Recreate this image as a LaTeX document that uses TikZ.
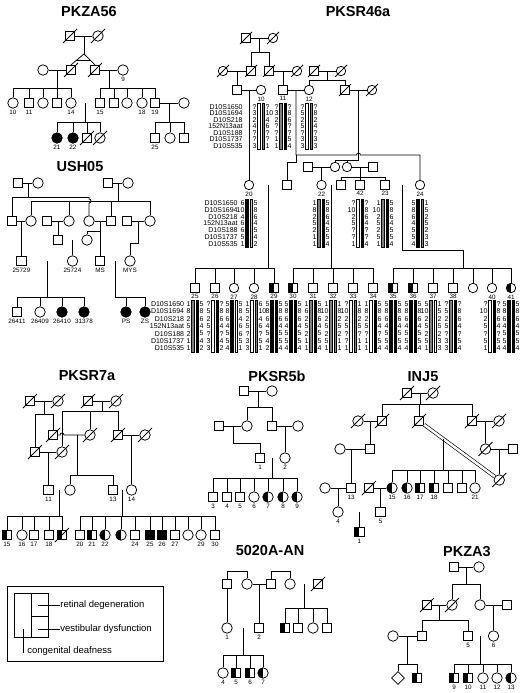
\documentclass[tikz,border=0pt]{standalone}
\usepackage{fontspec}
\setmainfont{Liberation Sans}
\usetikzlibrary{calc,shapes.geometric}
\newcommand\pddead[2][7]{\draw ([shift={(-#1,#1)}]#2.center) -- ([shift={(#1,-#1)}]#2.center);}
\newcommand\pdlab[2]{\node[lab] (#1-l) at ([yshift=-1.2pt]#1.south) {#2};}
\newcommand\pdmar[3]{\draw (#1) -- (#2); \coordinate (#3) at ($(#1)!.5!(#2)$);}
\newcommand\pdcmar[3]{\draw[cons] (#1) -- (#2); \coordinate (#3) at ($(#1)!.5!(#2)$);}
\newcommand\pdsib[5]{%
  \coordinate (sb) at (0,#2);
  \draw (#1) -- (#1|-sb);
  \draw (#1|-sb) -- (#3|-sb);
  \draw (#1|-sb) -- (#4|-sb);
  \foreach \c in {#5}{\draw (\c) -- (\c|-sb);}%
}
\newcommand\pdnames[3]{%
  \foreach \n [count=\i] in {D10S1650,D10S1694,D10S218,152N13aat,D10S188,D10S1737,D10S535}
    {\node[mk,anchor=east] (mn-#2-\i) at ({#1},{#2+(\i-1)*#3}) {\n};}%
}
\newcommand\pdhap[7]{%
  \filldraw[line width=0.4pt,fill=#6] ({#1-3.4},{#2-3.4}) rectangle ({#1-0.8},{#2+6*#3+3.4});
  \filldraw[line width=0.4pt,fill=#7] ({#1+0.8},{#2-3.4}) rectangle ({#1+3.4},{#2+6*#3+3.4});
  \foreach \a [count=\i] in {#4}{\node[mk,anchor=east] (hl-#1-#2-\i) at ({#1-4.2},{#2+(\i-1)*#3}) {\a};}
  \foreach \a [count=\i] in {#5}{\node[mk,anchor=west] (hr-#1-#2-\i) at ({#1+4.2},{#2+(\i-1)*#3}) {\a};}%
}
\begin{document}
\begin{tikzpicture}[x=1pt,y=-1pt,line width=0.75pt,
  pm/.style={draw,rectangle,minimum size=9.5pt,inner sep=0pt,fill=white},
  pf/.style={draw,circle,minimum size=10.5pt,inner sep=0pt,fill=white},
  pms/.style={pm,minimum size=8.5pt},
  pfs/.style={pf,minimum size=9.5pt},
  pu/.style={draw,diamond,minimum width=13pt,minimum height=13pt,inner sep=0pt,fill=white},
  aff/.style={fill=black},
  hlf/.style={path picture={\fill[black] (path picture bounding box.south west) rectangle (path picture bounding box.north);}},
  lab/.style={font=\fontsize{6.3}{6.3}\selectfont,inner sep=0pt,anchor=north},
  ttl/.style={font=\fontsize{14.5}{14.5}\selectfont\bfseries,inner sep=0pt},
  mk/.style={font=\fontsize{7}{7}\selectfont,inner sep=0pt},
  cons/.style={double=white,double distance=1.6pt,line width=0.65pt},
  leg/.style={font=\fontsize{9.5}{9.5}\selectfont,inner sep=0pt,anchor=west}]
\useasboundingbox (0,0) rectangle (523,693);
\fill[white] (0,0) rectangle (523,693);

% ================= PKZA56
\node[ttl] (T1) at (89,12) {PKZA56};
\node[pm] (a1) at (70,36) {}; \node[pf] (a2) at (98,36) {};
\pdmar{a1}{a2}{ma12}
\coordinate (tw) at (84,54);
\draw (ma12) -- (tw);
\node[pm] (a3) at (71,70) {}; \node[pm] (a4) at (95,70) {};
\draw (a3.north) -- (tw) -- (a4.north);
\draw ($(tw)!0.62!(a3.north)$) -- ($(tw)!0.62!(a4.north)$);
\node[pf] (a5) at (43,70) {}; \node[pf] (a6) at (123,70) {};
\pdmar{a5}{a3}{ma53}
\pdmar{a4}{a6}{ma46}
\pddead{a1}\pddead{a2}\pddead{a3}\pddead{a4}
\pdlab{a6}{9}
\node[pf] (b1) at (13,103) {}; \node[pm] (b2) at (29,103) {}; \node[pf] (b3) at (43,103) {};
\node[pm] (b4) at (57,103) {}; \node[pf] (b5) at (71,103) {};
\node[pm] (b6) at (100,103) {}; \node[pm] (b7) at (114,103) {}; \node[pf] (b8) at (127,103) {};
\node[pf] (b9) at (142,103) {}; \node[pm] (b10) at (155,103) {}; \node[pf] (b11) at (184,103) {};
\pdsib{ma53}{88}{b1}{b5}{b1,b2,b3,b4,b5}
\pdsib{ma46}{88}{b6}{b10}{b6,b7,b8,b9,b10}
\pdlab{b1}{10}\pdlab{b2}{11}\pdlab{b5}{14}\pdlab{b6}{15}\pdlab{b9}{18}\pdlab{b10}{19}
\pdcmar{b5}{b6}{mb56}
\pdmar{b10}{b11}{mb1011}
\node[pf,aff] (c1) at (57,138) {}; \node[pf,aff] (c2) at (73,138) {};
\node[pm] (c3) at (87,138) {}; \node[pf] (c4) at (100,138) {};
\pddead{c3}\pddead{c4}
\pdsib{mb56}{122}{c1}{c4}{c1,c2,c3,c4}
\node[pm] (c5) at (155,138) {}; \node[pf] (c6) at (170,138) {}; \node[pm] (c7) at (184,138) {};
\pdsib{mb1011}{122}{c5}{c7}{c5,c6,c7}
\pdlab{c1}{21}\pdlab{c2}{22}\pdlab{c5}{25}

% ================= USH05
\node[ttl] (T2) at (80,167) {USH05};
\node[pm] (d1) at (18,183) {}; \node[pf] (d2) at (38,183) {};
\node[pm] (d3) at (108,183) {}; \node[pf] (d4) at (128,183) {};
\pdmar{d1}{d2}{md12}\pdmar{d3}{d4}{md34}
\node[pm] (e1) at (12,221) {}; \node[pf] (e2) at (31,221) {}; \node[pm] (e3) at (47,221) {};
\node[pf] (e4) at (69,221) {}; \node[pf] (e5) at (89,221) {}; \node[pm] (e6) at (111,221) {};
\node[pm] (e7) at (127,221) {}; \node[pf] (e8) at (150,221) {};
\coordinate (s197) at (0,197);
\draw (md12) -- (md12|-s197);
\draw (e1|-s197) -- (e5|-s197);
\draw (e1) -- (e1|-s197);
\draw (e5|-s197) -- ++(0,2) arc[start angle=90,end angle=-90,radius=2pt] -- (e5);
\pdsib{md34}{201}{e2}{e8}{e2,e4,e6,e8}
\pdmar{e1}{e2}{me12}
\node[pm] (f1) at (21.5,261) {}; \draw (me12) -- (f1);
\pdmar{e3}{e4}{me34}
\node[pm] (g1) at (58,240) {}; \draw (me34) -- (g1);
\pdmar{e5}{e6}{me56}
\node[pf] (g2) at (87,240) {}; \node[pm] (f3) at (100,261) {};
\coordinate (s231) at (0,231);
\draw (me56) -- (f3);
\draw (me56|-s231) -| (g2);
\pdmar{e7}{e8}{me78}
\node[pf] (f4) at (130,261) {};
\coordinate (s243) at (0,243);
\draw (me78) -- (me78|-s243) -| (f4);
\pdcmar{g1}{g2}{mg12}
\node[pf] (f2) at (72.5,261) {}; \draw (mg12) -- (f2);
\pdcmar{f1}{f2}{mf12}
\pdcmar{f3}{f4}{mf34}
\pdlab{f1}{25729}\pdlab{f2}{25724}\pdlab{f3}{MS}\pdlab{f4}{MYS}
\node[pm] (h1) at (17,312) {}; \node[pf] (h2) at (40,312) {};
\node[pf,aff] (h3) at (62,312) {}; \node[pf,aff] (h4) at (84,312) {};
\pdsib{mf12}{297}{h1}{h4}{h1,h2,h3,h4}
\node[pf,aff] (h5) at (126,312) {}; \node[pf,aff] (h6) at (145,312) {};
\pdsib{mf34}{297}{h5}{h6}{h5,h6}
\pdlab{h1}{26411}\pdlab{h2}{26409}\pdlab{h3}{26410}\pdlab{h4}{31378}\pdlab{h5}{PS}\pdlab{h6}{ZS}

% ================= PKSR46a
\node[ttl] (T3) at (358,12) {PKSR46a};
\node[pms] (i1) at (246,38) {}; \node[pfs] (i2) at (273,38) {};
\pdmar{i1}{i2}{mi12}
\node[pfs] (j1) at (223,71) {}; \node[pms] (j2) at (251,71) {}; \node[pms] (j3) at (269,71) {};
\node[pfs] (j4) at (297,71) {}; \node[pms] (j5) at (314,71) {}; \node[pfs] (j6) at (341,71) {};
\pdsib{mi12}{52}{j2}{j3}{j2,j3}
\pdmar{j1}{j2}{mj12}\pdmar{j3}{j4}{mj34}\pdmar{j5}{j6}{mj56}
\node[pms] (k1) at (237,90) {}; \node[pfs] (k2) at (261,90) {}; \node[pms] (k3) at (283,90) {};
\node[pfs] (k4) at (309,90) {}; \node[pms] (k5) at (345,90) {}; \node[pfs] (k6) at (372,90) {};
\draw (mj12) -- (k1); \draw (mj34) -- (k3);
\pdsib{mj56}{80}{k4}{k5}{k4,k5}
\pdmar{k1}{k2}{mk12}\pdmar{k3}{k4}{mk34}\pdmar{k5}{k6}{mk56}
\pddead[6]{i1}\pddead[6]{i2}\pddead[6]{j1}\pddead[6]{j2}\pddead[6]{j3}\pddead[6]{j4}
\pddead[6]{j5}\pddead[6]{j6}\pddead[6]{k5}\pddead[6]{k6}
\pdlab{k2}{10}\pdlab{k3}{11}\pdlab{k4}{12}
\node[pms] (p1) at (308,167) {}; \node[pfs] (p2) at (335,167) {};
\node[pfs] (p3) at (347,167) {}; \node[pms] (p4) at (373,167) {};
\node[pfs] (l1) at (249,185) {}; \node[pms] (l2) at (287,185) {}; \node[pfs] (l3) at (321.5,185) {};
\node[pms] (l4) at (341,185) {}; \node[pms] (l5) at (360,185) {}; \node[pms] (l6) at (385,185) {};
\node[pfs] (l7) at (420,185) {};
\coordinate (s155) at (0,155); \coordinate (s162) at (0,162); \coordinate (s160) at (0,160);
\draw (mk34) -- (mk34|-s155) -- (356.5,155) arc[start angle=180,end angle=0,radius=2pt] -- (420,155) -- (l7);
\draw (mk34|-s155) -- (mk34|-s162) -| (l2);
\draw (mk56) -- (mk56|-s160) -- (p2|-s160);
\draw (p2) -- (p2|-s160); \draw (p3) -- (p3|-s160);
\draw (mk12) -- (l1);
\pdmar{p1}{p2}{mp12} \draw (mp12) -- (l3);
\pdmar{p3}{p4}{mp34}
\pdsib{mp34}{177}{l4}{l6}{l4,l5,l6}
\pdcmar{l1}{l2}{ml12}\pdcmar{l3}{l4}{ml34}\pdcmar{l6}{l7}{ml67}
\pdlab{l1}{20}\pdlab{l3}{22}\pdlab{l5}{42}\pdlab{l6}{23}\pdlab{l7}{24}
\node[pms] (n25) at (195,288) {}; \node[pms] (n26) at (215,288) {}; \node[pfs] (n27) at (234,288) {};
\node[pfs] (n28) at (254,288) {}; \node[pms,hlf] (n29) at (274,288) {};
\node[pms,hlf] (n30) at (293,288) {}; \node[pms] (n31) at (313,288) {}; \node[pms] (n32) at (333,288) {};
\node[pms] (n33) at (353,288) {}; \node[pms] (n34) at (373,288) {};
\node[pms,hlf] (n35) at (393,288) {}; \node[pms,hlf] (n36) at (413,288) {}; \node[pms] (n37) at (433,288) {};
\node[pms] (n38) at (453,288) {}; \node[pfs] (n39) at (473,288) {}; \node[pfs] (n40) at (492,288) {};
\node[pfs,hlf] (n41) at (511,288) {};
\pdsib{ml12}{268}{n25}{n29}{n25,n26,n27,n28,n29}
\pdsib{ml34}{268}{n30}{n34}{n30,n31,n32,n33,n34}
\coordinate (d67) at (463,250);
\draw (ml67) |- (d67);
\pdsib{d67}{268}{n35}{n41}{n35,n36,n37,n38,n39,n40,n41}
\pdlab{n25}{25}\pdlab{n26}{26}\pdlab{n27}{27}\pdlab{n28}{28}\pdlab{n29}{29}\pdlab{n30}{30}
\pdlab{n31}{31}\pdlab{n32}{32}\pdlab{n33}{33}\pdlab{n34}{34}\pdlab{n35}{35}\pdlab{n36}{36}
\pdlab{n37}{37}\pdlab{n38}{38}\pdlab{n40}{40}\pdlab{n41}{41}
% haplotypes
\pdnames{243}{107}{6.5}
\pdhap{261}{107}{6.5}{?,3,2,4,?,?,3}{?,10,4,6,?,?,1}{white}{gray}
\pdhap{283}{107}{6.5}{?,3,2,?,?,1,1}{?,8,6,?,?,5,4}{gray}{black}
\pdhap{309}{107}{6.5}{?,5,2,5,?,3,3}{?,8,2,4,?,3,3}{white}{gray}
\pdnames{238}{203}{6.8}
\pdhap{249}{203}{6.8}{6,10,4,6,6,5,1}{5,8,6,4,5,4,2}{black}{gray!45}
\pdhap{321}{203}{6.8}{1,8,2,5,2,1,1}{5,8,6,4,5,5,4}{gray}{black}
\pdhap{360}{203}{6.8}{?,10,2,5,?,?,1}{?,8,6,4,?,?,4}{white}{black}
\pdhap{385}{203}{6.8}{1,10,2,5,2,5,1}{5,8,6,4,5,5,4}{gray}{black}
\pdhap{420}{203}{6.8}{5,8,6,4,5,5,4}{1,5,2,5,2,3,3}{black}{gray}
\pdnames{184.5}{304}{7.4}
\pdhap{195}{304}{7.4}{1,8,2,5,2,1,1}{5,8,6,4,5,4,2}{gray}{black}
\pdhap{215}{304}{7.4}{?,5,2,5,?,3,3}{?,8,6,4,?,4,2}{white}{black}
\pdhap{234}{304}{7.4}{5,8,6,4,5,5,4}{5,8,4,6,6,5,1}{black}{white}
\pdhap{254}{304}{7.4}{1,5,2,5,?,3,3}{6,10,4,6,?,5,1}{white}{gray}
\pdhap{274}{304}{7.4}{5,8,6,4,5,4,2}{5,8,6,4,5,5,4}{black}{black}
\pdhap{293}{304}{7.4}{5,8,6,4,5,5,4}{5,8,6,4,5,5,4}{black}{black}
\pdhap{313}{304}{7.4}{1,6,2,5,2,1,1}{5,8,6,4,5,5,4}{gray}{black}
\pdhap{333}{304}{7.4}{1,10,2,5,2,5,1}{1,8,2,5,2,1,1}{gray}{gray}
\pdhap{353}{304}{7.4}{?,10,2,5,?,?,1}{1,8,2,5,?,1,1}{white}{gray}
\pdhap{373}{304}{7.4}{1,8,2,5,?,1,1}{5,8,6,4,?,5,4}{white}{black}
\pdhap{393}{304}{7.4}{5,8,6,4,5,5,4}{5,8,6,4,5,5,4}{black}{black}
\pdhap{413}{304}{7.4}{5,8,6,4,5,5,4}{5,8,6,4,5,5,4}{black}{black}
\pdhap{433}{304}{7.4}{5,10,2,5,2,5,1}{1,5,2,5,2,3,3}{gray}{white}
\pdhap{453}{304}{7.4}{?,5,2,5,?,3,3}{?,8,6,4,?,5,4}{gray}{black}
\pdhap{492}{304}{7.4}{?,10,2,5,?,5,1}{?,8,6,4,?,5,4}{white}{black}
\pdhap{511}{304}{7.4}{5,8,6,4,5,5,4}{5,8,6,4,5,5,4}{black}{black}

% ================= PKSR7a
\node[ttl] (T4) at (87,376) {PKSR7a};
\node[pm] (q1) at (30,401) {}; \node[pf] (q2) at (58,401) {};
\node[pm] (q3) at (88,401) {}; \node[pf] (q4) at (116,401) {};
\pdmar{q1}{q2}{mq12}\pdmar{q3}{q4}{mq34}
\node[pm] (r1) at (53,435) {}; \node[pf] (r4) at (90,435) {}; \node[pm] (r5) at (118,435) {};
\node[pf] (r6) at (145,435) {}; \node[pm] (r2) at (35,452) {}; \node[pf] (r3) at (62,452) {};
\pdsib{mq12}{414}{r2}{r1}{r2,r1}
\pdsib{mq34}{411}{r3}{r5}{r3,r4,r5}
\draw (r1) -- (60,435) arc[start angle=180,end angle=0,radius=2pt] -- (r4);
\coordinate (mr14) at (77,435);
\pdmar{r2}{r3}{mr23}\pdmar{r5}{r6}{mr56}
\pddead{q1}\pddead{q2}\pddead{q3}\pddead{q4}\pddead{r1}\pddead{r2}\pddead{r3}\pddead{r4}\pddead{r5}\pddead{r6}
\node[pm] (s1) at (48.5,490) {}; \node[pf] (s2) at (70,490) {};
\node[pm] (s3) at (113,490) {}; \node[pf] (s4) at (131.5,490) {};
\draw (mr23) -- (s1); \draw (mr56) -- (s4);
\pdsib{mr14}{475}{s2}{s3}{s2,s3}
\pdcmar{s1}{s2}{ms12}\pdcmar{s3}{s4}{ms34}
\pdlab{s1}{11}\pdlab{s3}{13}\pdlab{s4}{14}
\node[pm,hlf] (t1) at (7,535) {}; \node[pf] (t2) at (22,535) {}; \node[pm] (t3) at (34,535) {};
\node[pm] (t4) at (49,535) {}; \node[pm,hlf] (t5) at (62,535) {};
\pddead{t5}
\pdsib{ms12}{516}{t1}{t5}{t1,t2,t3,t4,t5}
\pdlab{t1}{15}\pdlab{t2}{16}\pdlab{t3}{17}\pdlab{t4}{18}
\node[pm] (u1) at (80,535) {}; \node[pm,hlf] (u2) at (92,535) {}; \node[pf,hlf] (u3) at (105,535) {};
\node[pf,hlf] (u4) at (121,535) {}; \node[pm] (u5) at (135,535) {}; \node[pm,aff] (u6) at (150,535) {};
\node[pm,aff] (u7) at (162,535) {}; \node[pm] (u8) at (175,535) {}; \node[pf] (u9) at (188,535) {};
\node[pf] (u10) at (201,535) {}; \node[pm] (u11) at (215,535) {};
\pdsib{ms34}{516}{u1}{u11}{u1,u2,u3,u4,u5,u6,u7,u8,u9,u10,u11}
\pdlab{u1}{20}\pdlab{u2}{21}\pdlab{u3}{22}\pdlab{u5}{24}\pdlab{u6}{25}\pdlab{u7}{26}
\pdlab{u8}{27}\pdlab{u10}{29}\pdlab{u11}{30}

% ================= PKSR5b
\node[ttl] (T5) at (277,376) {PKSR5b};
\node[pm] (v1) at (244,391) {}; \node[pf] (v2) at (272,391) {};
\pdmar{v1}{v2}{mv}
\node[pm] (w1) at (219,426) {}; \node[pf] (w2) at (247,426) {};
\node[pm] (w3) at (272,426) {}; \node[pf] (w4) at (298,426) {};
\pdsib{mv}{407}{w2}{w3}{w2,w3}
\pdmar{w1}{w2}{mw12}\pdmar{w3}{w4}{mw34}
\node[pm] (x1) at (260,458) {}; \node[pf] (x2) at (285,458) {};
\coordinate (s443) at (0,443);
\draw (mw12) -- (mw12|-s443) -| (x1);
\draw (mw34) -- (x2);
\pdcmar{x1}{x2}{mx}
\pdlab{x1}{1}\pdlab{x2}{2}
\node[pm] (y3) at (213,497) {}; \node[pm] (y4) at (227,497) {}; \node[pm] (y5) at (240,497) {};
\node[pf] (y6) at (254,497) {}; \node[pf,hlf] (y7) at (268,497) {}; \node[pf,hlf] (y8) at (283,497) {};
\node[pf,hlf] (y9) at (297,497) {};
\pdsib{mx}{478}{y3}{y9}{y3,y4,y5,y6,y7,y8,y9}
\pdlab{y3}{3}\pdlab{y4}{4}\pdlab{y5}{5}\pdlab{y6}{6}\pdlab{y7}{7}\pdlab{y8}{8}\pdlab{y9}{9}

% ================= INJ5
\node[ttl] (T6) at (423,377) {INJ5};
\node[pm] (z1) at (407,393) {}; \node[pf] (z2) at (433,393) {};
\pdmar{z1}{z2}{mz}
\node[pm] (za) at (382,421) {}; \node[pm] (zb) at (419,421) {}; \node[pm] (zc) at (472,421) {};
\pdsib{mz}{404}{za}{zc}{za,zb,zc}
\node[pf] (zd) at (358,421) {};
\pdmar{zd}{za}{mzda}
\node[pm] (ze) at (370,449) {}; \draw (mzda) -- (ze);
\node[pf] (zf) at (340,449) {}; \draw (zf) -- (ze);
\coordinate (mzfe) at (351,449);
\node[pm] (zg) at (351,488) {}; \draw (mzfe) -- (zg);
\node[pf] (zi) at (499,421) {};
\pdmar{zc}{zi}{mzci}
\node[pf] (zj) at (485.5,449) {}; \draw (mzci) -- (zj);
\node[pm] (zk) at (513,449) {};
\pdmar{zj}{zk}{mzjk}
\node[pf] (zh) at (499.25,480) {}; \draw (mzjk) -- (zh);
\draw[cons,double distance=2.4pt] (zb) -- (zh);
\coordinate (mzbh) at ($(zb)!0.3!(zh)$);
\node[pf,hlf] (c15) at (392,488) {}; \node[pf,hlf] (c16) at (407,488) {}; \node[pm,hlf] (c17) at (420,488) {};
\node[pm,hlf] (c18) at (434,488) {}; \node[pm] (c19) at (448,488) {}; \node[pm] (c20) at (462,488) {};
\node[pf] (c21) at (475,488) {};
\pdsib{mzbh}{470}{c15}{c21}{c15,c16,c17,c18,c19,c20,c21}
\pdlab{c15}{15}\pdlab{c16}{16}\pdlab{c17}{17}\pdlab{c18}{18}\pdlab{c21}{21}
\node[pf] (zl) at (325,488) {};
\pdmar{zl}{zg}{mzlg}
\node[pf] (zm) at (338,512) {}; \draw (mzlg) -- (zm);
\node[pm] (zn) at (369,488) {};
\pdmar{zn}{c15}{mznc}
\node[pm] (zo) at (380.5,512) {}; \draw (mznc) -- (zo);
\pdcmar{zm}{zo}{mzmo}
\node[pm,hlf] (zp) at (359.25,532) {}; \draw (mzmo) -- (zp);
\pddead{z1}\pddead{z2}\pddead{za}\pddead{zb}\pddead{zc}\pddead{zd}\pddead{zi}\pddead{zj}\pddead{zh}\pddead{zn}
\pdlab{zg}{13}\pdlab{zm}{4}\pdlab{zo}{5}\pdlab{zp}{1}

% ================= 5020A-AN
\node[ttl] (T7) at (270,551) {5020A-AN};
\node[pm] (aa1) at (227,584) {}; \node[pf] (aa2) at (247,584) {}; \node[pm] (aa3) at (271,584) {};
\node[pf] (aa4) at (290,584) {}; \node[pm] (aa5) at (318,584) {};
\coordinate (s571) at (0,571);
\draw (aa1) -- (aa1|-s571) -- (aa2|-s571) -- (aa2);
\draw (aa3) -- (aa3|-s571) -- (aa4|-s571) -- (aa4);
\pdmar{aa2}{aa3}{ma23}
\pdcmar{aa4}{aa5}{ma45}
\pddead{aa5}
\node[pf] (bb1) at (227,628) {}; \node[pm] (bb2) at (259,628) {};
\draw (aa1) -- (bb1); \draw (ma23) -- (bb2);
\node[pm,hlf] (bc1) at (285,628) {}; \node[pm] (bc2) at (298,628) {}; \node[pf] (bc3) at (313,628) {};
\node[pm] (bc4) at (327,628) {};
\pdsib{ma45}{608}{bc1}{bc4}{bc1,bc2,bc3,bc4}
\pdcmar{bb1}{bb2}{mbb}
\pdlab{bb1}{1}\pdlab{bb2}{2}
\node[pf] (be4) at (223,673) {}; \node[pm,hlf] (be5) at (236,673) {}; \node[pm,hlf] (be6) at (250,673) {};
\node[pf,hlf] (be7) at (263,673) {};
\pdsib{mbb}{655}{be4}{be7}{be4,be5,be6,be7}
\pdlab{be4}{4}\pdlab{be5}{5}\pdlab{be6}{6}\pdlab{be7}{7}

% ================= PKZA3
\node[ttl] (T8) at (467,552) {PKZA3};
\node[pm] (cc1) at (454,567) {}; \node[pf] (cc2) at (479,567) {};
\pdmar{cc1}{cc2}{mcc}
\node[pm] (dd1) at (427,605) {}; \node[pf] (dd2) at (452,605) {}; \node[pf] (dd3) at (480,605) {};
\node[pm] (dd4) at (507,605) {};
\pdsib{mcc}{584}{dd2}{dd3}{dd2,dd3}
\pdmar{dd1}{dd2}{mdd12}\pdmar{dd3}{dd4}{mdd34}
\pddead{dd1}\pddead{dd2}
\node[pf] (ee1) at (393,636) {}; \node[pm] (ee2) at (422,636) {}; \node[pm] (ee3) at (468,636) {};
\node[pf] (ee4) at (493.5,636) {};
\pdsib{mdd12}{620}{ee2}{ee3}{ee2,ee3}
\draw (mdd34) -- (ee4);
\pdmar{ee1}{ee2}{mee12}
\pdcmar{ee3}{ee4}{mee34}
\pdlab{ee3}{5}\pdlab{ee4}{6}
\node[pu] (ff1) at (398,678) {}; \node[pm,hlf] (ff2) at (417,678) {};
\pdsib{mee12}{664}{ff1}{ff2}{ff1,ff2}
\node[pm,hlf] (gg9) at (454,678) {}; \node[pm,hlf] (gg10) at (468,678) {}; \node[pf] (gg11) at (483,678) {};
\node[pf] (gg12) at (497,678) {}; \node[pf,hlf] (gg13) at (511,678) {};
\pdsib{mee34}{664}{gg9}{gg13}{gg9,gg10,gg11,gg12,gg13}
\pdlab{gg9}{9}\pdlab{gg10}{10}\pdlab{gg11}{11}\pdlab{gg12}{12}\pdlab{gg13}{13}

% ================= Legend
\draw (7,586) rectangle (163,661);
\draw (14,593) rectangle (48,637);
\draw (31,593) -- (31,637);
\draw (31,616) -- (48,616);
\node[leg] (L1) at (60,605) {retinal degeneration};
\node[leg] (L2) at (60,629) {vestibular dysfunction};
\node[leg] (L3) at (27,651) {congenital deafness};
\draw (38,605) -- (L1.west);
\draw (38,629) -- (L2.west);
\draw (23,629) -- (23,653);
\end{tikzpicture}
\end{document}
